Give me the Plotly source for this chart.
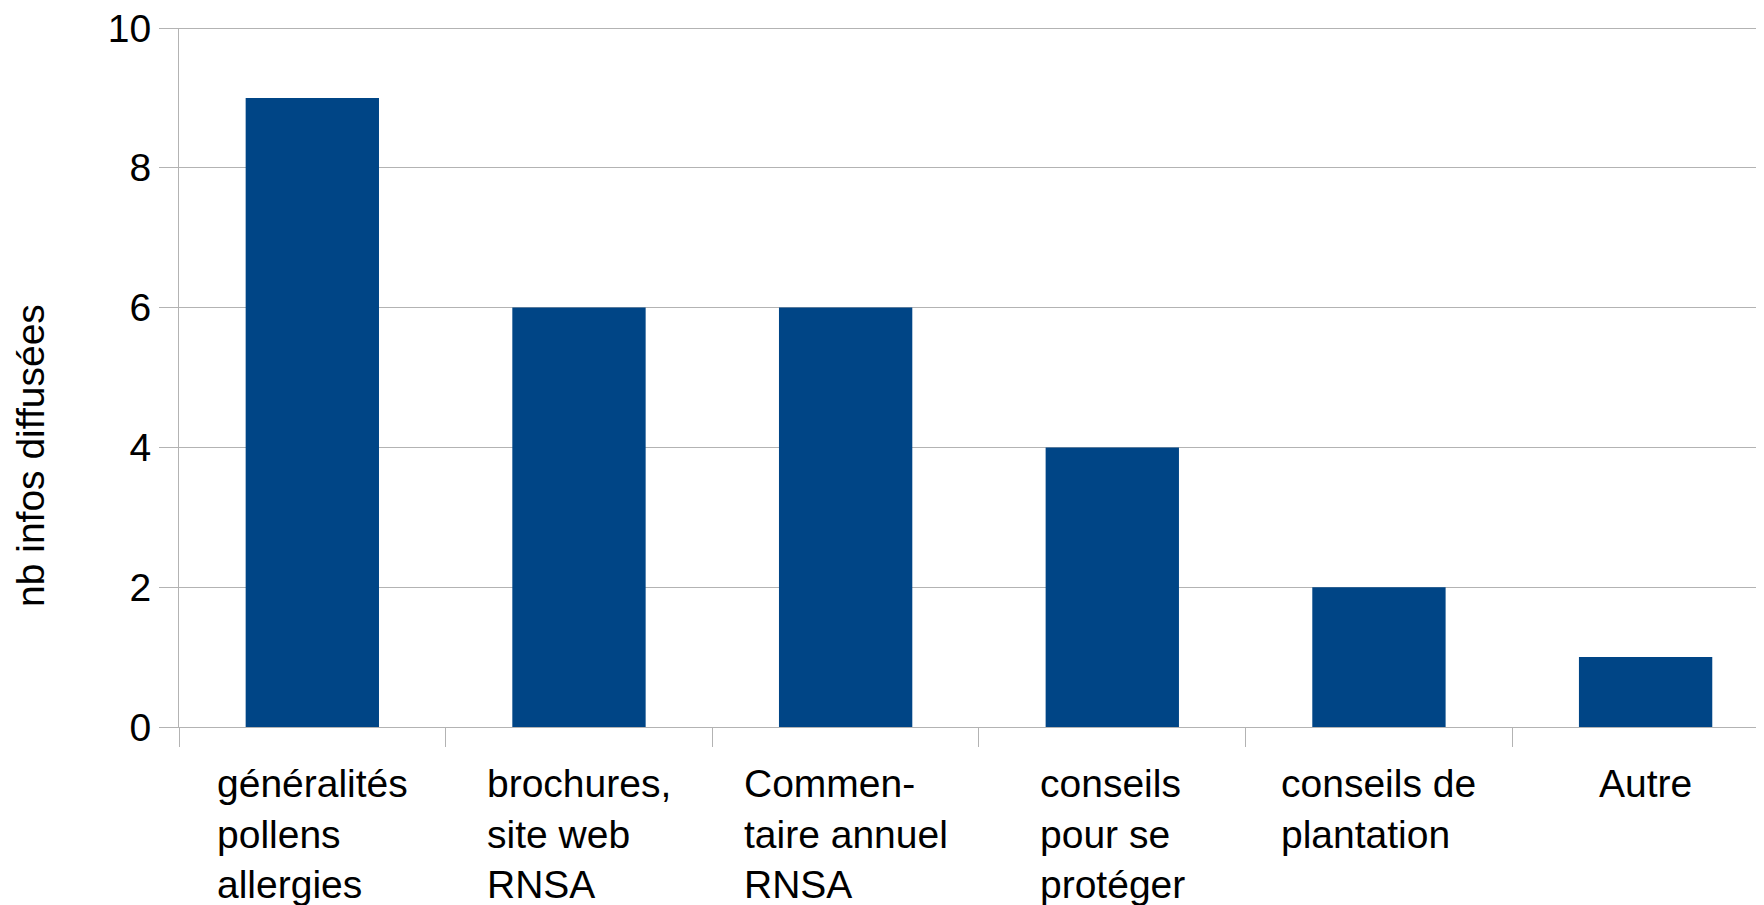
import plotly.graph_objects as go

categories = [
    "généralités<br>pollens<br>allergies",
    "brochures,<br>site web<br>RNSA",
    "Commen-<br>taire annuel<br>RNSA",
    "conseils<br>pour se<br>protéger",
    "conseils de<br>plantation",
    "Autre",
]
values = [9, 6, 6, 4, 2, 1]
y_ticks = [0, 2, 4, 6, 8, 10]
y_title = "nb infos diffusées"

FONT = "Liberation Sans, Arial, sans-serif"
GRID = "#b3b3b3"
BAR = "#004586"

fig = go.Figure()
fig.add_trace(go.Bar(x=categories, y=values, marker=dict(color=BAR, line=dict(width=0)), width=0.5))

annotations = []
for c in categories:
    annotations.append(dict(
        x=c, xref="x", y=0, yref="y", yanchor="top", xanchor="center",
        yshift=-33, text=c, showarrow=False, align="left",
        font=dict(family=FONT, size=39, color="black"),
    ))
annotations.append(dict(
    x=0, xref="paper", xanchor="center", xshift=-148,
    y=0.3877, yref="paper", yanchor="middle",
    text=y_title, textangle=-90, showarrow=False,
    font=dict(family=FONT, size=39, color="black"),
))

fig.update_layout(
    width=1756, height=897,
    margin=dict(l=171, r=0, t=20, b=178),
    paper_bgcolor="white", plot_bgcolor="white",
    showlegend=False,
    bargap=0.5,
    annotations=annotations,
    xaxis=dict(
        type="category",
        range=[-0.5, 5.444],
        showticklabels=False,
        tickson="boundaries",
        ticks="outside", ticklen=19, tickcolor=GRID, tickwidth=1,
        showline=True, linecolor=GRID, linewidth=1,
        showgrid=False, zeroline=False,
    ),
    yaxis=dict(
        range=[0, max(y_ticks)],
        tickvals=y_ticks,
        ticklabeloverflow="allow",
        ticks="outside", ticklen=19, tickcolor=GRID, tickwidth=1,
        showline=True, linecolor=GRID, linewidth=1,
        showgrid=True, gridcolor=GRID, gridwidth=1,
        zeroline=False,
        tickfont=dict(family=FONT, size=39, color="black"),
    ),
)
# top gridline (plotly skips the grid line lying on the plot edge)
fig.add_shape(type="line", xref="paper", yref="y", x0=0, x1=1,
              y0=max(y_ticks), y1=max(y_ticks),
              line=dict(color=GRID, width=2), layer="below")

fig.write_html("out.html")
